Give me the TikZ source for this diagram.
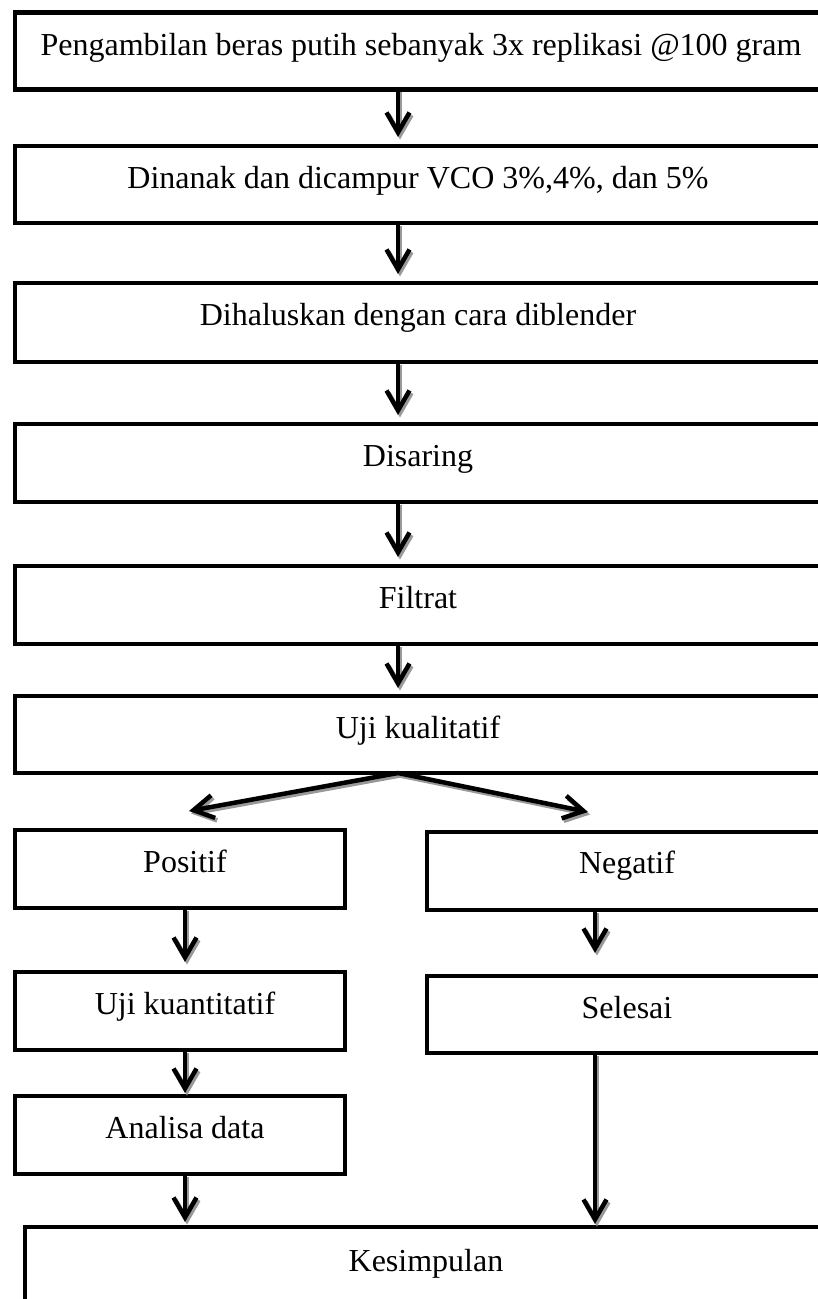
\documentclass[tikz,border=0pt]{standalone}
\usepackage{fontspec}
\setmainfont{Liberation Serif}
\usetikzlibrary{arrows.meta}
% one connector: grey drop shadow first, black arrow on top
\newcommand\flowlink[2]{%
  \draw[flowshadow] #1 -- #2;
  \draw[flow] #1 -- #2;}
\begin{document}
\begin{tikzpicture}[x=1pt,y=-1pt,
  box/.style={draw=black, line width=4.5pt, inner sep=0pt, outer sep=0pt,
              anchor=north west, minimum height=77pt},
  widebox/.style={box, minimum width=815pt},
  halfbox/.style={box, minimum width=330pt},
  rightbox/.style={box, minimum width=403pt},
  lbl/.style={anchor=base, inner sep=0pt, font=\fontsize{32}{38}\selectfont},
  flow/.style={line width=4.5pt, -{Straight Barb[length=20pt,width=23pt]}},
  flowshadow/.style={flow, draw=black!40, transform canvas={shift={(2,2.5)}}}
]
\useasboundingbox (0,0) rectangle (818,1299);
\fill[white] (0,0) rectangle (818,1299);
\clip (0,0) rectangle (818,1299);

% main column
\node[widebox] (b1) at (15,12.5) {};
\node[widebox] (b2) at (15,146) {};
\node[widebox, minimum height=79pt] (b3) at (15,283) {};
\node[widebox, minimum height=78pt] (b4) at (15,424) {};
\node[widebox, minimum height=78pt] (b5) at (15,566) {};
\node[widebox] (b6) at (15,696) {};

\node[lbl] (t1) at (421,55) {Pengambilan beras putih sebanyak 3x replikasi @100 gram};
\node[lbl] (t2) at (418,188) {Dinanak dan dicampur VCO 3\%,4\%, dan 5\%};
\node[lbl] (t3) at (418,325) {Dihaluskan dengan cara diblender};
\node[lbl] (t4) at (418,466) {Disaring};
\node[lbl] (t5) at (418,608) {Filtrat};
\node[lbl] (t6) at (418,738) {Uji kualitatif};

% two branches
\node[halfbox, minimum height=78pt] (pos) at (15,830) {};
\node[rightbox, minimum height=78pt] (neg) at (427,832) {};
\node[halfbox, minimum height=78pt] (ujk) at (15,972) {};
\node[rightbox] (sel) at (427,976) {};
\node[halfbox, minimum height=78pt] (ana) at (15,1096) {};
\node[box, minimum width=805pt, minimum height=120pt] (kes) at (25,1227) {};

\node[lbl] (tpos) at (185,872) {Positif};
\node[lbl] (tneg) at (627,873) {Negatif};
\node[lbl] (tujk) at (185,1014) {Uji kuantitatif};
\node[lbl] (tsel) at (627,1018) {Selesai};
\node[lbl] (tana) at (185,1138) {Analisa data};
\node[lbl] (tkes) at (426,1271) {Kesimpulan};

% arrow ends
\coordinate (a1) at (398,137);
\coordinate (a2) at (398,274);
\coordinate (a3) at (398,415);
\coordinate (a4) at (398,557);
\coordinate (a5) at (398,688);
\coordinate (split) at (398,773);
\coordinate (lt) at (189,811);
\coordinate (rt) at (588,812);
\coordinate (a6) at (185,962);
\coordinate (a7) at (185,1093);
\coordinate (a8) at (185,1222);
\coordinate (a9) at (595,953);
\coordinate (a10) at (595,1224);

\flowlink{(b1.south -| a1)}{(a1)}
\flowlink{(b2.south -| a2)}{(a2)}
\flowlink{(b3.south -| a3)}{(a3)}
\flowlink{(b4.south -| a4)}{(a4)}
\flowlink{(b5.south -| a5)}{(a5)}
\flowlink{(split)}{(lt)}
\flowlink{(split)}{(rt)}
\flowlink{(pos.south -| a6)}{(a6)}
\flowlink{(ujk.south -| a7)}{(a7)}
\flowlink{(ana.south -| a8)}{(a8)}
\flowlink{(neg.south -| a9)}{(a9)}
\flowlink{(sel.south -| a10)}{(a10)}
\end{tikzpicture}
\end{document}
